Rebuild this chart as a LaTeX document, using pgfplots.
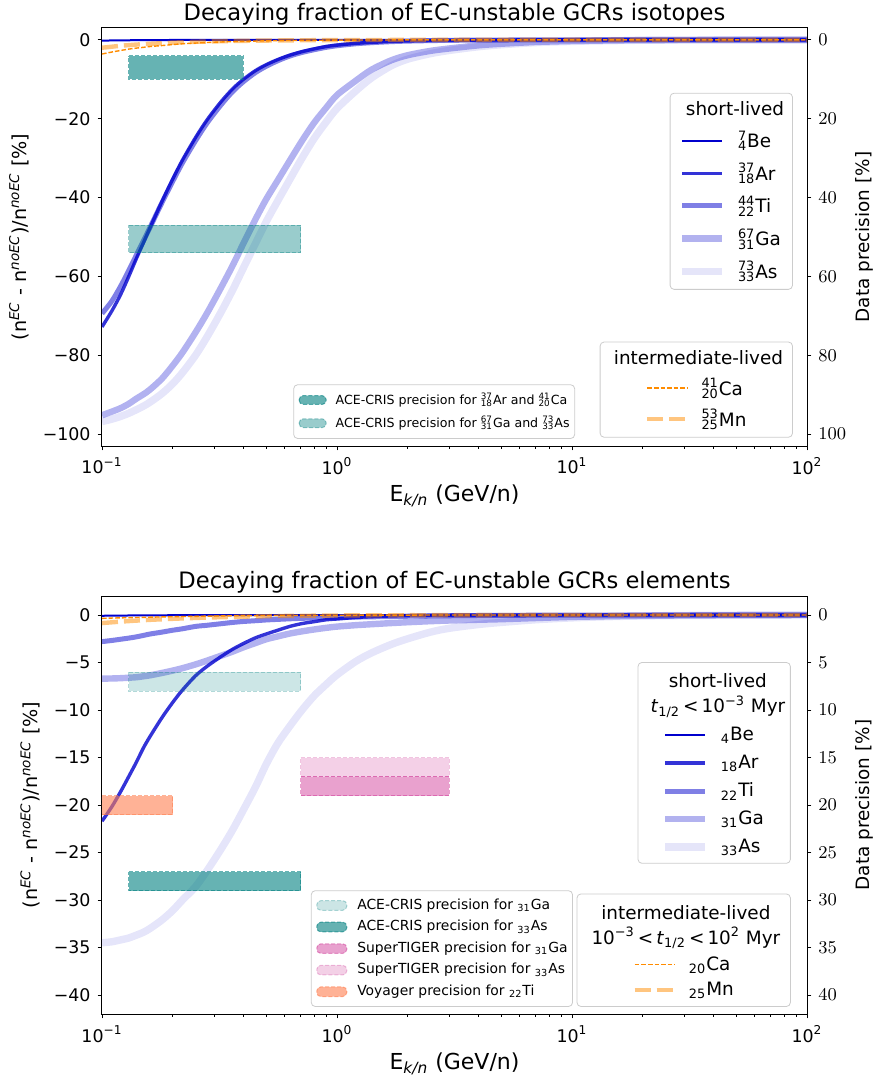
\documentclass[border=0pt]{standalone}
\usepackage{fontspec}
\setmainfont{DejaVu Sans}
\usepackage{pgfplots}
\usepackage{pgfplotstable}
\pgfplotsset{compat=1.18}

\definecolor{mblue}{RGB}{0,0,205}
\definecolor{dorange}{RGB}{255,140,0}
\definecolor{tealc}{RGB}{0,128,128}
\definecolor{mvred}{RGB}{199,21,133}
\definecolor{coralc}{RGB}{255,127,80}

\newcommand\iso[3]{\rlap{\textsuperscript{#1}}\textsubscript{#2}#3}
\newcommand\legtitle[1]{\makebox[23pt][l]{\hspace*{-1.5pt}\makebox[0pt][c]{#1}}}

% energy per nucleon (GeV/n) and (n^EC - n^noEC)/n^noEC in %
\pgfplotstableread{
E     Be     Ar     Ti     Ga     As     Ca     Mn
0.10 -0.20 -72.8  -69.4  -95.2  -96.8  -3.6   -2.0
0.11 -0.16 -68.8  -66.3  -94.3  -96.2  -3.1   -1.75
0.12 -0.13 -64.6  -62.5  -93.4  -95.5  -2.7   -1.5
0.13 -0.11 -60.0  -58.5  -92.3  -94.7  -2.35  -1.35
0.14 -0.09 -55.5  -54.6  -91.0  -93.8  -2.1   -1.2
0.15 -0.08 -51.5  -51.0  -89.9  -92.9  -1.9   -1.1
0.16 -0.07 -47.7  -47.6  -88.7  -91.9  -1.7   -1.0
0.18 -0.05 -41.0  -41.3  -85.9  -89.7  -1.45  -0.85
0.20 -0.04 -35.3  -35.9  -82.6  -87.2  -1.2   -0.7
0.22 -0.03 -30.5  -31.2  -79.3  -84.4  -1.0   -0.62
0.25 -0.03 -24.8  -25.6  -74.2  -80.0  -0.82  -0.5
0.28 -0.02 -20.3  -21.1  -69.3  -75.3  -0.68  -0.43
0.32 -0.02 -15.8  -16.6  -63.0  -69.2  -0.55  -0.36
0.36 -0.01 -12.4  -13.1  -57.2  -63.4  -0.45  -0.3
0.40 -0.01 -10.0  -10.6  -51.6  -57.8  -0.38  -0.26
0.45 -0.01 -7.8   -8.3   -45.5  -51.6  -0.31  -0.22
0.50 -0.01 -6.3   -6.7   -40.4  -46.1  -0.26  -0.19
0.56  0    -5.0   -5.3   -35.6  -40.8  -0.21  -0.16
0.63  0    -3.9   -4.1   -30.6  -35.4  -0.17  -0.13
0.71  0    -3.0   -3.2   -25.6  -30.0  -0.14  -0.11
0.80  0    -2.3   -2.5   -21.0  -25.0  -0.11  -0.09
0.90  0    -1.7   -1.9   -17.2  -20.8  -0.09  -0.08
1.0   0    -1.35  -1.5   -14.0  -17.4  -0.08  -0.07
1.2   0    -0.9   -1.0   -10.4  -13.0  -0.06  -0.05
1.4   0    -0.65  -0.72  -7.6   -9.7   -0.04  -0.04
1.7   0    -0.4   -0.46  -5.2   -6.6   -0.03  -0.03
2.0   0    -0.28  -0.32  -3.9   -4.9   -0.02  -0.02
2.5   0    -0.17  -0.2   -2.8   -3.5   -0.01  -0.02
3     0    -0.11  -0.13  -2.2   -2.7   -0.01  -0.01
4     0    -0.06  -0.07  -1.4   -1.75   0     -0.01
5     0    -0.04  -0.05  -1.0   -1.25   0      0
7     0    -0.02  -0.02  -0.55  -0.7    0      0
10    0    -0.01  -0.01  -0.3   -0.4    0      0
15    0     0      0     -0.15  -0.2    0      0
20    0     0      0     -0.08  -0.1    0      0
30    0     0      0     -0.04  -0.05   0      0
50    0     0      0     -0.01  -0.02   0      0
100   0     0      0      0      0      0      0
}\isotopes

\pgfplotstableread{
E     Be     Ar     Ti     Ga     As     Ca     Mn
0.10 -0.08 -21.7  -2.8   -6.7   -34.5  -0.35  -0.85
0.11 -0.07 -20.2  -2.68  -6.68  -34.4  -0.32  -0.77
0.12 -0.06 -18.6  -2.55  -6.65  -34.2  -0.3   -0.7
0.13 -0.05 -17.0  -2.43  -6.6   -34.0  -0.28  -0.64
0.14 -0.04 -15.5  -2.3   -6.55  -33.7  -0.26  -0.59
0.15 -0.04 -14.0  -2.15  -6.45  -33.4  -0.25  -0.55
0.16 -0.03 -12.8  -2.0   -6.35  -33.0  -0.23  -0.51
0.18 -0.03 -10.8  -1.8   -6.1   -32.1  -0.2   -0.45
0.20 -0.02 -9.2   -1.6   -5.85  -31.1  -0.18  -0.4
0.22 -0.02 -7.9   -1.45  -5.6   -30.0  -0.16  -0.36
0.25 -0.01 -6.4   -1.2   -5.2   -28.6  -0.14  -0.31
0.28 -0.01 -5.4   -1.08  -4.8   -26.9  -0.12  -0.27
0.32 -0.01 -4.4   -0.92  -4.3   -24.7  -0.1   -0.23
0.36  0    -3.6   -0.78  -3.85  -22.6  -0.08  -0.2
0.40  0    -3.0   -0.68  -3.4   -20.5  -0.07  -0.17
0.45  0    -2.4   -0.6   -2.95  -18.1  -0.06  -0.15
0.50  0    -2.0   -0.52  -2.55  -15.7  -0.05  -0.13
0.56  0    -1.6   -0.46  -2.25  -13.5  -0.04  -0.11
0.63  0    -1.2   -0.4   -1.95  -11.7  -0.04  -0.09
0.71  0    -0.9   -0.35  -1.72  -10.0  -0.03  -0.08
0.80  0    -0.7   -0.31  -1.52  -8.5   -0.03  -0.07
0.90  0    -0.5   -0.28  -1.35  -7.3   -0.02  -0.06
1.0   0    -0.42  -0.26  -1.22  -6.3   -0.02  -0.05
1.2   0    -0.26  -0.22  -1.07  -4.9   -0.02  -0.04
1.4   0    -0.17  -0.19  -0.97  -4.0   -0.01  -0.03
1.7   0    -0.1   -0.16  -0.85  -3.1   -0.01  -0.03
2.0   0    -0.06  -0.13  -0.76  -2.5   -0.01  -0.02
2.5   0    -0.03  -0.1   -0.65  -1.8    0     -0.02
3     0    -0.02  -0.08  -0.58  -1.4    0     -0.01
4     0    -0.01  -0.05  -0.5   -1.0    0     -0.01
5     0     0     -0.04  -0.44  -0.78   0      0
7     0     0     -0.02  -0.32  -0.5    0      0
10    0     0     -0.01  -0.2   -0.3    0      0
15    0     0      0     -0.12  -0.16   0      0
20    0     0      0     -0.08  -0.1    0      0
30    0     0      0     -0.05  -0.05   0      0
50    0     0      0     -0.02  -0.02   0      0
100   0     0      0      0      0      0      0
}\elements

\tikzset{
  legbox/.style={draw=black!20, rounded corners=2pt, fill=white,
    font=\fontsize{9.2}{12.5}\selectfont, nodes={inner sep=0pt},
    inner ysep=4pt, row sep=4pt},
  sBe/.style={mblue, line width=1pt},
  sAr/.style={mblue, line width=1.7pt, draw opacity=0.8},
  sTi/.style={mblue, line width=2.5pt, draw opacity=0.5},
  sGa/.style={mblue, line width=3.2pt, draw opacity=0.3},
  sAs/.style={mblue, line width=3.7pt, draw opacity=0.1},
  sCa/.style={dorange, line width=0.7pt, dash pattern=on 2.3pt off 1pt},
  sMn/.style={dorange, line width=2.2pt, draw opacity=0.5, dash pattern=on 8pt off 3pt},
  rect/.style={fill=#1, draw=#1, line width=0.5pt, dash pattern=on 2pt off 1pt},
}

\pgfplotsset{
  every axis/.append style={width=352.5pt, height=209pt, scale only axis,
    xmin=0.1, xmax=100, anchor=south west,
    tick align=outside,
    major tick length=2.2pt, minor tick length=1.3pt,
    axis line style={line width=0.5pt},
    tick label style={font=\fontsize{8.7}{10}\selectfont},
    xlabel style={font=\fontsize{11}{13}\selectfont, yshift=1.8pt},
    ylabel style={font=\fontsize{9.6}{12}\selectfont},
    title style={font=\fontsize{11.3}{13}\selectfont, yshift=-8pt}},
  every tick/.append style={black, line width=0.45pt},
  lineleg/.style={legend cell align=left,
    legend image code/.code={\draw[##1] (0pt,0pt) -- (20pt,0pt); \path (26pt,0pt);}},
  patchlegA/.style={legend cell align=left,
    legend image code/.code={\draw[##1] (0pt,-2.2pt) rectangle (13.5pt,2.2pt); \path (18pt,0pt);}},
  patchlegB/.style={legend cell align=left,
    legend image code/.code={\draw[##1] (0pt,-2.4pt) rectangle (15pt,2.4pt); \path (20pt,0pt);}},
  rightlabel/.style={ylabel style={font=\fontsize{9.2}{11}\selectfont,
    at={(axis description cs:1.081,0.5)}, anchor=center}},
}

\begin{document}
\begin{tikzpicture}
\path[use as bounding box] (-51pt,-315.5pt) rectangle (386.5pt,223pt);

% ---------- top panel: isotopes ----------
\begin{semilogxaxis}[at={(0pt,0pt)},
  xtick={0.1,1,10,100},
  xticklabels={10\textsuperscript{−1},10\textsuperscript{0},10\textsuperscript{1},10\textsuperscript{2}},
  minor xtick={0.2,0.3,0.4,0.5,0.6,0.7,0.8,0.9,2,3,4,5,6,7,8,9,20,30,40,50,60,70,80,90},
  tick pos=left,
  xlabel={E\textsubscript{\textit{k/n}} (GeV/n)},
  ylabel={(n\textsuperscript{\textit{EC}} - n\textsuperscript{\textit{noEC}})/n\textsuperscript{\textit{noEC}} [\%]},
  ymin=-103, ymax=3, ytick={-100,-80,...,0},
  yticklabels={−100,−80,−60,−40,−20,0},
  title={Decaying fraction of EC-unstable GCRs isotopes},
  lineleg,
  legend style={legbox, at={(0.98,0.845)}, anchor=north east, inner xsep=4.25pt, row sep=6.25pt}]
\addlegendimage{empty legend}\addlegendentry{\legtitle{short-lived}}
\addplot[sBe, smooth] table[x=E, y=Be] {\isotopes}; \addlegendentry{\iso{7}{4}{Be}}
\addplot[sAr, smooth] table[x=E, y=Ar] {\isotopes}; \addlegendentry{\iso{37}{18}{Ar}}
\addplot[sTi, smooth] table[x=E, y=Ti] {\isotopes}; \addlegendentry{\iso{44}{22}{Ti}}
\addplot[sGa, smooth] table[x=E, y=Ga] {\isotopes}; \addlegendentry{\iso{67}{31}{Ga}}
\addplot[sAs, smooth] table[x=E, y=As] {\isotopes}; \addlegendentry{\iso{73}{33}{As}}
\addplot[sCa, smooth, forget plot] table[x=E, y=Ca] {\isotopes};
\addplot[sMn, smooth, forget plot] table[x=E, y=Mn] {\isotopes};
\addplot[rect=tealc, fill opacity=0.6, draw opacity=0.6, forget plot]
  coordinates {(0.13,-4) (0.4,-4) (0.4,-10) (0.13,-10)} -- cycle;
\addplot[rect=tealc, fill opacity=0.4, draw opacity=0.4, forget plot]
  coordinates {(0.13,-47) (0.7,-47) (0.7,-54) (0.13,-54)} -- cycle;
\end{semilogxaxis}

\begin{semilogxaxis}[at={(0pt,0pt)}, hide axis, ymin=0, ymax=1,
  lineleg, legend style={legbox, at={(0.98,0.02)}, anchor=south east, inner xsep=22.5pt, row sep=5.5pt}]
\addlegendimage{empty legend}\addlegendentry{\legtitle{intermediate-lived}}
\addlegendimage{sCa}\addlegendentry{\iso{41}{20}{Ca}}
\addlegendimage{sMn}\addlegendentry{\iso{53}{25}{Mn}}
\end{semilogxaxis}

\begin{semilogxaxis}[at={(0pt,0pt)}, hide axis, ymin=0, ymax=1,
  patchlegA, legend style={legbox, font=\fontsize{6.3}{7.5}\selectfont,
    at={(0.671,0.017)}, anchor=south east, inner xsep=2.5pt, row sep=4.3pt}]
\addlegendimage{rect=tealc, fill opacity=0.6, draw opacity=0.6}
\addlegendentry{ACE-CRIS precision for \iso{37}{18}{Ar} and \iso{41}{20}{Ca}}
\addlegendimage{rect=tealc, fill opacity=0.4, draw opacity=0.4}
\addlegendentry{ACE-CRIS precision for \iso{67}{31}{Ga} and \iso{73}{33}{As}}
\end{semilogxaxis}

\begin{semilogxaxis}[at={(0pt,0pt)}, axis x line=none, axis y line*=right,
  y dir=reverse, ymin=-3, ymax=103, ytick={0,20,...,100},
  rightlabel, ylabel={Data precision [\%]}]
\end{semilogxaxis}

% ---------- bottom panel: elements ----------
\begin{semilogxaxis}[at={(0pt,-284pt)},
  xtick={0.1,1,10,100},
  xticklabels={10\textsuperscript{−1},10\textsuperscript{0},10\textsuperscript{1},10\textsuperscript{2}},
  minor xtick={0.2,0.3,0.4,0.5,0.6,0.7,0.8,0.9,2,3,4,5,6,7,8,9,20,30,40,50,60,70,80,90},
  tick pos=left,
  xlabel={E\textsubscript{\textit{k/n}} (GeV/n)},
  ylabel={(n\textsuperscript{\textit{EC}} - n\textsuperscript{\textit{noEC}})/n\textsuperscript{\textit{noEC}} [\%]},
  ymin=-42, ymax=2, ytick={-40,-35,...,0},
  yticklabels={−40,−35,−30,−25,−20,−15,−10,−5,0},
  title={Decaying fraction of EC-unstable GCRs elements},
  lineleg,
  legend style={legbox, at={(0.977,0.842)}, anchor=north east, inner xsep=11.75pt, row sep=5.65pt}]
\addlegendimage{empty legend}
\addlegendentry{\legtitle{\begin{tabular}[b]{@{}c@{}}short-lived\\\textit{t}\textsubscript{1/2}\,<\,10\textsuperscript{−3} Myr\end{tabular}}}
\addplot[sBe, smooth] table[x=E, y=Be] {\elements}; \addlegendentry{\textsubscript{4}Be}
\addplot[sAr, smooth] table[x=E, y=Ar] {\elements}; \addlegendentry{\textsubscript{18}Ar}
\addplot[sTi, smooth] table[x=E, y=Ti] {\elements}; \addlegendentry{\textsubscript{22}Ti}
\addplot[sGa, smooth] table[x=E, y=Ga] {\elements}; \addlegendentry{\textsubscript{31}Ga}
\addplot[sAs, smooth] table[x=E, y=As] {\elements}; \addlegendentry{\textsubscript{33}As}
\addplot[sCa, smooth, forget plot] table[x=E, y=Ca] {\elements};
\addplot[sMn, smooth, forget plot] table[x=E, y=Mn] {\elements};
\addplot[rect=tealc, fill opacity=0.2, draw opacity=0.3, forget plot]
  coordinates {(0.13,-6) (0.7,-6) (0.7,-8) (0.13,-8)} -- cycle;
\addplot[rect=tealc, fill opacity=0.6, draw opacity=0.6, forget plot]
  coordinates {(0.13,-27) (0.7,-27) (0.7,-29) (0.13,-29)} -- cycle;
\addplot[rect=mvred, fill opacity=0.4, draw opacity=0.4, forget plot]
  coordinates {(0.7,-17) (3,-17) (3,-19) (0.7,-19)} -- cycle;
\addplot[rect=mvred, fill opacity=0.2, draw opacity=0.25, forget plot]
  coordinates {(0.7,-15) (3,-15) (3,-17) (0.7,-17)} -- cycle;
\addplot[rect=coralc, fill opacity=0.6, draw opacity=0.6, forget plot]
  coordinates {(0.1,-19) (0.2,-19) (0.2,-21) (0.1,-21)} -- cycle;
\end{semilogxaxis}

\begin{semilogxaxis}[at={(0pt,-284pt)}, hide axis, ymin=0, ymax=1,
  lineleg, legend style={legbox, at={(0.977,0.017)}, anchor=south east, inner xsep=27.75pt, row sep=4.5pt}]
\addlegendimage{empty legend}
\addlegendentry{\legtitle{\begin{tabular}[b]{@{}c@{}}intermediate-lived\\10\textsuperscript{−3}\,<\,\textit{t}\textsubscript{1/2}\,<\,10\textsuperscript{2} Myr\end{tabular}}}
\addlegendimage{sCa}\addlegendentry{\textsubscript{20}Ca}
\addlegendimage{sMn}\addlegendentry{\textsubscript{25}Mn}
\end{semilogxaxis}

\begin{semilogxaxis}[at={(0pt,-284pt)}, hide axis, ymin=0, ymax=1,
  patchlegB, legend style={legbox, font=\fontsize{6.95}{8}\selectfont,
    at={(0.668,0.017)}, anchor=south east, inner xsep=2.5pt, row sep=4pt}]
\addlegendimage{rect=tealc, fill opacity=0.2, draw opacity=0.3}
\addlegendentry{ACE-CRIS precision for \textsubscript{31}Ga}
\addlegendimage{rect=tealc, fill opacity=0.6, draw opacity=0.6}
\addlegendentry{ACE-CRIS precision for \textsubscript{33}As}
\addlegendimage{rect=mvred, fill opacity=0.4, draw opacity=0.4}
\addlegendentry{SuperTIGER precision for \textsubscript{31}Ga}
\addlegendimage{rect=mvred, fill opacity=0.2, draw opacity=0.25}
\addlegendentry{SuperTIGER precision for \textsubscript{33}As}
\addlegendimage{rect=coralc, fill opacity=0.6, draw opacity=0.6}
\addlegendentry{Voyager precision for \textsubscript{22}Ti}
\end{semilogxaxis}

\begin{semilogxaxis}[at={(0pt,-284pt)}, axis x line=none, axis y line*=right,
  y dir=reverse, ymin=-2, ymax=42, ytick={0,5,...,40},
  rightlabel, ylabel={Data precision [\%]}]
\end{semilogxaxis}
\end{tikzpicture}
\end{document}
